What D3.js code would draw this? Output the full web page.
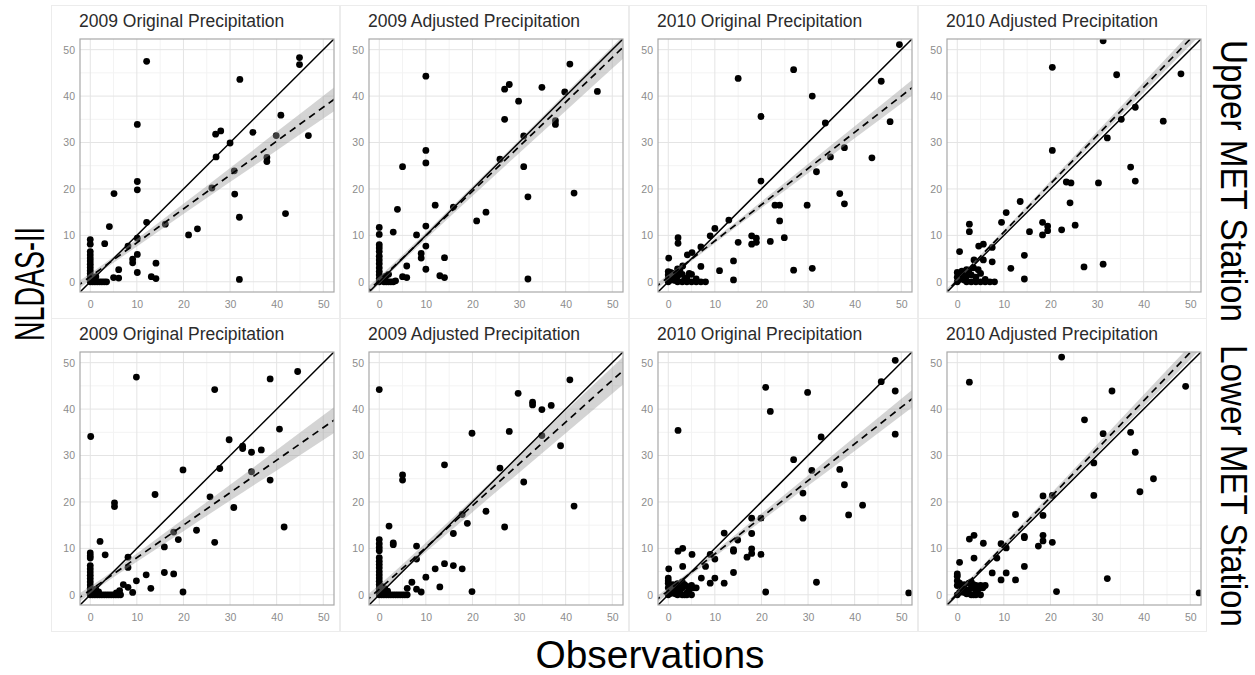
<!DOCTYPE html>
<html>
<head>
<meta charset="utf-8">
<style>
body { margin: 0; background: #fff; font-family: "Liberation Sans", Arial, sans-serif; }
#chart { width: 1255px; height: 675px; }
</style>
</head>
<body>
<div id="chart"></div>
<script src="https://d3js.org/d3.v7.min.js"></script>
<script>

// panel titles, strip labels and ticks
var colTitles = ["2009 Original Precipitation", "2009 Adjusted Precipitation",
                 "2010 Original Precipitation", "2010 Adjusted Precipitation"];
var rowNames = ["Upper MET Station", "Lower MET Station"];
var ticks = [0, 10, 20, 30, 40, 50];
var minorTicks = [5, 15, 25, 35, 45];

// observations vs NLDAS-II, [obs, nldas]
var up09orig = [[12.1,47.5],[44.9,48.3],[44.9,46.8],[32.1,43.6],[10.1,33.9],[40.9,35.9],[26.9,31.8],[28,32.5],
  [30,29.9],[34.9,32.2],[39.9,31.5],[46.8,31.5],[27,26.9],[37.9,26.8],[37.9,25.9],[30.9,23.9],[26.1,20.2],
  [31,18.9],[32,13.9],[41.9,14.7],[10.1,21.6],[10.1,19.8],[5.1,19],[4.1,11.9],[12.1,12.8],[16.1,12.4],
  [23,11.4],[21.1,10.1],[10.1,9.4],[3.1,8.2],[8.1,7.7],[9.1,4.9],[9.1,4.1],[10.1,5.9],[6.1,2.6],[10.1,2],
  [14.1,4],[5,0.9],[6.1,0.8],[13.1,1.1],[14.1,0.7],[32,0.5],
  [0,9.1],[0,8.1],[0,6.5],[0,5.8],[0,5.1],[0,4.5],[0,3.8],[0,3.1],[0,2.4],[0,1.8],[0,1.2],[0,0.6],[0,0],
  [0.5,0],[1,0],[1.5,0],[2,0],[2.5,0],[3,0],[3.5,0],[0.6,0.6],[1.2,1.1],[0.3,0.2]];
var up09adj = [[10,44.3],[40.9,46.9],[34.9,41.9],[26.9,41.5],[27.9,42.5],[29.9,38.9],[39.8,40.9],[46.8,41],
  [26.9,35],[37.8,34.7],[37.8,33.9],[31,31.4],[10,28.3],[10,25.6],[5,24.8],[31,24.8],[25.9,26.4],[31.9,18.3],
  [41.8,19.1],[12,16.5],[15.9,16.1],[3.9,15.6],[22.9,15],[20.9,13.1],[10,12],[3,10.7],[8,10.1],[10,7.7],
  [9,6.1],[9,5.1],[14,5.2],[5.9,3.4],[10,2.7],[5,1.1],[5.9,0.9],[13,1.3],[14,0.9],[31.9,0.6],
  [0,11.7],[0,10.2],[0,8],[0,7.3],[0,6.5],[0,5.5],[0,4.7],[0,3.9],[0,3],[0,2.2],[0,1.5],[0,0.7],[0,0],
  [0.5,0.3],[1,0],[1.5,0],[2,0],[2.5,0],[3,0],[3.5,0.2],[0.7,0.8],[1.4,1.2],[2,1.6]];
var up10orig = [[49.6,51.1],[26.9,45.7],[15,43.8],[30.9,40],[45.7,43.2],[19.9,35.6],[33.7,34.2],[47.6,34.5],
  [37.8,28.9],[34.8,26.9],[43.7,26.7],[31.8,23.7],[19.9,21.7],[36.8,19],[37.8,16.8],[29.8,16.5],[22.9,16.5],
  [23.9,16.5],[23.9,13.1],[13,13.3],[10,11.5],[9,9.9],[17.9,9.9],[18.9,9.4],[18.9,8.5],[17.9,8.1],[15,8.5],
  [21.9,8.7],[24.9,9.5],[7,7.5],[2.1,9.5],[2.1,8.3],[5.1,6.3],[4.1,5.8],[0.1,5.1],[3.1,3.4],[7,3.3],[14,4.5],
  [11,2.4],[26.9,2.5],[30.9,2.9],[14,0.4],
  [0,0],[0.5,0.4],[1,1],[1.5,0.3],[2,0],[3,0],[4,0],[5,0],[6,0],[7,0],[8,0],[0,1.5],[0.5,2],[1,1.8],[2,1.2],
  [3,1.6],[4,0.8],[5,1.6],[6,0.6],[2.5,2.4],[3.5,0.4],[1,0.4],[0,0.8],[1.5,1.5],[4.5,1.8],[2,2.8],[0,2.2]];
var up10adj = [[31.3,51.9],[20.4,46.2],[34.2,44.6],[48,44.8],[38.2,37.6],[44.2,34.6],[35.2,35],[32.2,31],
  [20.4,28.3],[37.2,24.7],[38.2,21.7],[30.3,21.3],[23.4,21.5],[24.4,21.3],[24.2,17],[13.5,17.3],[10.5,14.9],
  [9.5,12.8],[18.3,12.8],[19.4,12],[19.4,11],[18.3,10.1],[22.4,11.2],[25.3,12.2],[15.5,10.8],[2.6,12.4],
  [2.6,10.8],[7.5,7.4],[4.6,7.7],[5.6,8.1],[0.5,6.5],[3.6,4.7],[5.6,4.7],[7.5,4.3],[14.4,5.7],[11.5,2.9],
  [27.2,3.2],[31.3,3.8],[14.4,0.6],
  [0,0],[0.5,0.5],[1,1],[1.5,0.4],[2,0],[3,0],[4,0],[5,0],[6,0],[7,0],[8,0],[0,2],[0.5,1.5],[1,2.3],[2,1.2],
  [2.5,2.5],[3,1.5],[4,1],[5,1.8],[6,0.5],[3.5,3],[4.5,2.6],[0,1],[1.5,2],[2,2.6]];
var lo09orig = [[9.9,46.9],[44.5,48.1],[26.7,44.2],[38.6,46.5],[0.1,34.1],[40.6,35.7],[29.8,33.4],[32.7,32],
  [32.7,31.5],[34.6,30.7],[36.7,31.2],[27.8,27.2],[19.9,26.9],[34.6,26.5],[38.6,24.7],[25.7,21.1],[13.9,21.6],
  [5.2,19.8],[5.2,19],[30.8,18.8],[22.8,13.9],[41.6,14.6],[17.9,13.5],[26.7,11.3],[18.9,11.9],[2.1,11.5],
  [3.2,8.6],[15.9,10.3],[8.1,8.1],[8.1,5.9],[12,4.3],[15.9,4.8],[17.9,4.5],[9.9,3],[7.1,2.2],[8.1,1.6],
  [9.1,0.5],[13,1.4],[19.9,0.6],
  [0,9],[0,8.4],[0,7.9],[0,6.3],[0,5.6],[0,4.9],[0,4.2],[0,3.5],[0,2.8],[0,2.1],[0,1.4],[0,0.7],[0,0],
  [0.5,0],[1,0],[1.5,0],[2,0],[2.5,0],[3,0],[3.5,0],[4,0],[4.5,0],[5,0],[5.5,0],[6,0],[6.5,0],
  [0.6,0.7],[1.2,1.2],[1.8,0.6],[6.3,0.9],[5.6,0.4]];
var lo09adj = [[0,44.2],[40.9,46.3],[29.8,43.4],[32.9,41.5],[32.9,40.9],[34.9,39.9],[36.9,40.8],[27.9,35.2],
  [19.9,34.8],[34.9,34.3],[38.9,32.1],[14,28],[25.9,27.3],[31,24.3],[5,25.8],[5,24.7],[22.9,18],[41.8,19.1],
  [17.8,17.3],[18.9,15.4],[26.9,14.6],[15.9,13.2],[2.1,14.8],[3,11.2],[3,10.8],[8,10.5],[8,7.7],[14,6.7],
  [15.9,6.3],[17.8,5.6],[12,5.6],[10,3.8],[7,2.7],[8,1.2],[9,0.6],[13,1.7],[19.9,0.7],[6,1.4],
  [0,11.9],[0,11],[0,10.2],[0,9.5],[0,8],[0,7.2],[0,6.5],[0,5.8],[0,5],[0,4.3],[0,3.6],[0,2.9],[0,2.2],
  [0,1.4],[0,0.7],[0,0],
  [0.5,0],[1,0],[1.5,0],[2,0],[2.5,0],[3,0],[3.5,0],[4,0],[4.5,0],[5,0],[5.5,0],[6,0],
  [0.6,0.6],[1.2,1.3],[1.8,0.8],[0.5,1.8]];
var lo10orig = [[48.7,50.5],[45.7,45.9],[20.9,44.7],[29.9,43.6],[48.7,43.9],[21.9,39.5],[2.1,35.4],[48.7,34.6],
  [32.8,34],[26.9,29.1],[30.8,26.8],[36.8,27],[37.8,23.7],[28.9,21.9],[41.7,19.3],[38.7,17.2],[28.9,16.5],
  [19.9,16.5],[17.9,16.5],[17.9,13.2],[12,13.3],[14.9,11.8],[14,9.7],[14,9.4],[17.9,9.9],[17.9,8.9],
  [16.9,8.1],[19.9,8.7],[9,8.7],[10,7.7],[8,6.1],[2.1,9.4],[3.1,10],[3.1,6.1],[5.1,8.7],[0.1,5.6],[7.1,3.6],
  [10,3.6],[9,2.5],[12,2.5],[14,4.8],[31.8,2.7],[20.9,0.6],[51.6,0.4],
  [0,0],[0.5,0.3],[1,1],[1.5,1.5],[0,1.5],[0,2.5],[0,3],[0,3.6],[0.5,2],[1,2.2],[2,1.5],[2.5,1],[3,0],
  [3.5,0],[4,0],[5,0],[2,0],[2.5,0.4],[3,1.5],[4,1.8],[5,2],[5.5,1.5],[4.5,1],[3.5,2.2],[1.5,0.2],[2,2.4],
  [6,1.5],[3,2.8],[4,0.4]];
var lo10adj = [[22.4,51.2],[2.6,45.8],[33.2,43.9],[49,44.9],[27.3,37.7],[31.3,34.7],[37.2,35],[38.2,30.7],
  [29.3,28.4],[42.1,25],[39.2,22.2],[29.3,21.4],[18.4,21.3],[20.4,21.4],[18.4,17.1],[12.5,17.3],[14.4,12.6],
  [14.4,12.3],[18.4,12.8],[18.4,11.6],[17.4,10.5],[20.4,11.3],[10.5,10.1],[9.4,11],[5.6,11.1],[2.6,12],
  [3.6,12.8],[3.6,7.9],[8.5,7.9],[14.4,6.1],[7.5,4.7],[10.5,4.7],[9.4,3.2],[12.5,3.2],[32.2,3.5],[21.3,0.7],
  [51.9,0.4],[0.5,7],
  [0,0],[0.5,0.5],[1,1],[0,2],[0,3],[0,4],[0,4.5],[0.5,2.5],[1,1.8],[1.5,2.2],[2,1],[2.5,0.3],[3,0],[3.5,0],
  [4,0],[5,0],[2,0.2],[3,1.5],[4,2],[4.5,1.2],[5,2],[5.5,1.5],[6,2],[3.5,2.2],[2.5,2.5],[1.5,0.5],[4,0.8],[3,2.8]];

var panelPoints = [up09orig, up09adj, up10orig, up10adj, lo09orig, lo09adj, lo10orig, lo10adj];

// fitted regression line (dashed) and its confidence band
var fitIntercept = [1.1, 0.3, 1.0, 0.3, 1.0, 1.2, 0.9, 0.2];
var fitSlope     = [0.73, 0.96, 0.78, 1.04, 0.70, 0.90, 0.79, 1.04];
var bandX = [-3, 0, 10, 20, 30, 40, 53];
var bandHalf = [
  [0.9, 0.7, 0.8, 1.1, 1.5, 2.0, 2.6],
  [1.0, 0.8, 0.7, 1.0, 1.4, 1.9, 2.5],
  [0.7, 0.5, 0.5, 0.7, 1.0, 1.3, 1.7],
  [0.6, 0.4, 0.4, 0.6, 0.8, 1.1, 1.4],
  [1.0, 0.8, 0.9, 1.3, 1.7, 2.2, 2.8],
  [1.1, 0.9, 1.0, 1.4, 1.9, 2.4, 3.0],
  [0.8, 0.6, 0.6, 0.8, 1.1, 1.5, 1.9],
  [0.7, 0.5, 0.5, 0.7, 1.0, 1.3, 1.6]
];

// layout
var W = 1255, H = 675;
var pw = 254, ph = 253;
var colLeft = [80, 369, 658, 947];
var rowTop = [39, 352];

var svg = d3.select("#chart").append("svg")
    .attr("width", W)
    .attr("height", H);

var x = d3.scaleLinear().domain([-2.2, 52.3]).range([0, pw]);
var y = d3.scaleLinear().domain([-2.2, 52.3]).range([ph, 0]);

panelPoints.forEach(function(pts, i) {
  var r = Math.floor(i / 4), c = i % 4;

  // faint outline of each sub-figure
  svg.append("rect")
      .attr("x", colLeft[c] - 28.5).attr("y", rowTop[r] - 33.5)
      .attr("width", pw + 34).attr("height", ph + 60)
      .attr("fill", "none").attr("stroke", "#ececec");

  var g = svg.append("g")
      .attr("transform", "translate(" + colLeft[c] + "," + rowTop[r] + ")");

  g.append("text")
      .attr("x", -1).attr("y", -12)
      .attr("font-size", 17.5).attr("fill", "#2b2b2b")
      .text(colTitles[c]);

  g.append("clipPath").attr("id", "clip" + i)
    .append("rect").attr("width", pw).attr("height", ph);

  // grid
  g.selectAll(".vminor").data(minorTicks).enter().append("line")
      .attr("x1", function(d) { return x(d); }).attr("x2", function(d) { return x(d); })
      .attr("y1", 0).attr("y2", ph).attr("stroke", "#f3f3f3");
  g.selectAll(".hminor").data(minorTicks).enter().append("line")
      .attr("y1", function(d) { return y(d); }).attr("y2", function(d) { return y(d); })
      .attr("x1", 0).attr("x2", pw).attr("stroke", "#f3f3f3");
  g.selectAll(".vmajor").data(ticks).enter().append("line")
      .attr("x1", function(d) { return x(d); }).attr("x2", function(d) { return x(d); })
      .attr("y1", 0).attr("y2", ph).attr("stroke", "#e4e4e4");
  g.selectAll(".hmajor").data(ticks).enter().append("line")
      .attr("y1", function(d) { return y(d); }).attr("y2", function(d) { return y(d); })
      .attr("x1", 0).attr("x2", pw).attr("stroke", "#e4e4e4");

  // axes
  var xa = g.append("g").attr("transform", "translate(0," + ph + ")")
      .call(d3.axisBottom(x).tickValues(ticks).tickSize(0).tickPadding(9));
  var ya = g.append("g")
      .call(d3.axisLeft(y).tickValues(ticks).tickSize(0).tickPadding(5));
  [xa, ya].forEach(function(a) {
    a.select(".domain").remove();
    a.selectAll("text").attr("fill", "#8c8c8c").attr("font-size", 10.5)
      .attr("font-family", "Liberation Sans, Arial, sans-serif");
  });

  var inner = g.append("g").attr("clip-path", "url(#clip" + i + ")");

  inner.selectAll("circle").data(pts).enter().append("circle")
      .attr("cx", function(d) { return x(d[0]); })
      .attr("cy", function(d) { return y(d[1]); })
      .attr("r", 3.4)
      .attr("fill", "#000");

  var a = fitIntercept[i], b = fitSlope[i];
  var band = bandX.map(function(v, k) {
    return { x: v, lo: a + b * v - bandHalf[i][k], hi: a + b * v + bandHalf[i][k] };
  });
  inner.append("path").datum(band)
      .attr("d", d3.area().curve(d3.curveMonotoneX)
        .x(function(d) { return x(d.x); })
        .y0(function(d) { return y(d.lo); })
        .y1(function(d) { return y(d.hi); }))
      .attr("fill", "#999").attr("fill-opacity", 0.42);

  inner.append("line")
      .attr("x1", x(-3)).attr("y1", y(a + b * -3))
      .attr("x2", x(53)).attr("y2", y(a + b * 53))
      .attr("stroke", "#000").attr("stroke-width", 1.7)
      .attr("stroke-dasharray", "7,5");

  inner.append("line")
      .attr("x1", x(-3)).attr("y1", y(-3))
      .attr("x2", x(53)).attr("y2", y(53))
      .attr("stroke", "#000").attr("stroke-width", 1.5);

  g.append("rect")
      .attr("width", pw).attr("height", ph)
      .attr("fill", "none").attr("stroke", "#a8a8a8").attr("stroke-width", 1.2);
});

// shared labels
svg.append("text")
    .attr("transform", "translate(44,284) rotate(-90)")
    .attr("text-anchor", "middle")
    .attr("font-size", 42)
    .attr("textLength", 114).attr("lengthAdjust", "spacingAndGlyphs")
    .text("NLDAS-II");

svg.append("text")
    .attr("x", 650).attr("y", 668)
    .attr("text-anchor", "middle")
    .attr("font-size", 38)
    .attr("textLength", 229).attr("lengthAdjust", "spacingAndGlyphs")
    .text("Observations");

rowNames.forEach(function(name, r) {
  svg.append("text")
      .attr("transform", "translate(1221," + [181, 486][r] + ") rotate(90)")
      .attr("text-anchor", "middle")
      .attr("font-size", 37)
      .attr("textLength", 282).attr("lengthAdjust", "spacingAndGlyphs")
      .text(name);
});

</script>
</body>
</html>
